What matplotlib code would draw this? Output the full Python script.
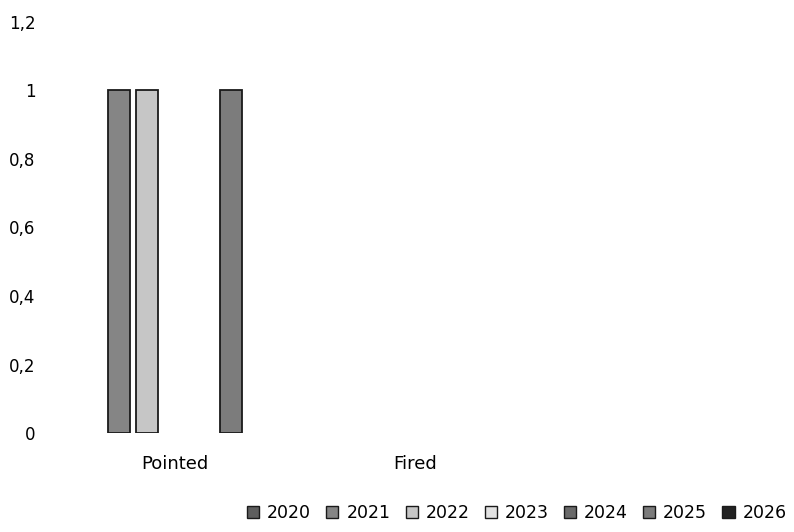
import matplotlib.pyplot as plt
import matplotlib.patches as mpatches
import numpy as np

categories = ['Pointed', 'Fired', '']
years = ['2020', '2021', '2022', '2023', '2024', '2025', '2026']
values = [
    [0, 0, 0],  # 2020
    [1, 0, 0],  # 2021
    [1, 0, 0],  # 2022
    [0, 0, 0],  # 2023
    [0, 0, 0],  # 2024
    [1, 0, 0],  # 2025
    [0, 0, 0],  # 2026
]
yticks = [0, 0.2, 0.4, 0.6, 0.8, 1, 1.2]
ytick_labels = ['0', '0,2', '0,4', '0,6', '0,8', '1', '1,2']

colors = ['#5e5e5e', '#858585', '#c6c6c6', '#e2e2e2', '#6a6a6a', '#7c7c7c', '#222222']

plt.rcParams['font.family'] = ['DejaVu Sans']

fig = plt.figure(figsize=(7.94, 5.32), dpi=100)
ax = fig.add_axes([0.069, 0.186, 0.907, 0.773])

x = np.arange(len(categories))
step = 0.1167
width = 0.0917
handles = []
for i, (yr, vals) in enumerate(zip(years, values)):
    bars = ax.bar(x + (i - 3) * step, vals, width, color=colors[i],
                  edgecolor='#1a1a1a', linewidth=1.3)
    # hide the flat outline of empty bars
    for b, v in zip(bars, vals):
        if v == 0:
            b.set_visible(False)
    handles.append(mpatches.Patch(facecolor=colors[i], edgecolor='#1a1a1a',
                                  linewidth=1.0, label=yr))

ax.set_xlim(-0.5, len(categories) - 0.5)
ax.set_ylim(0, 1.2)
ax.set_yticks(yticks)
ax.set_yticklabels(ytick_labels, fontsize=12)
ax.set_xticks(x)
ax.set_xticklabels(categories, fontsize=13)
ax.tick_params(length=0, pad=14)
ax.tick_params(axis='x', pad=16)
for s in ax.spines.values():
    s.set_visible(False)

ax.legend(handles=handles, loc='center left', bbox_to_anchor=(0.267, -0.195), ncol=7,
          frameon=False, fontsize=12.5, handlelength=0.7, handleheight=0.7,
          handletextpad=0.45, columnspacing=0.88, borderaxespad=0, borderpad=0)

fig.savefig('out.png', dpi=100)
